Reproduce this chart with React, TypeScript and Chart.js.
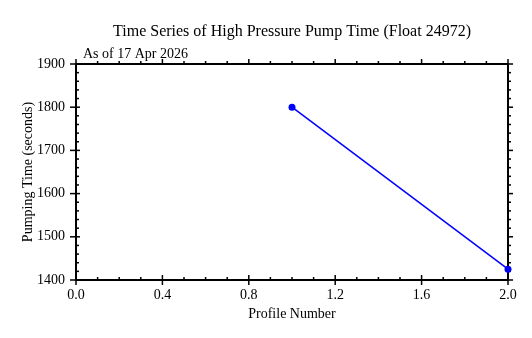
import React, { useEffect, useRef } from "react";
import { Chart, registerables } from "chart.js";

Chart.register(...registerables);

const TITLE = "Time Series of High Pressure Pump Time (Float 24972)";
const SUBTITLE = "As of 17 Apr 2026";
const X_LABEL = "Profile Number";
const Y_LABEL = "Pumping Time (seconds)";

const profileNumbers = [1, 2];
const pumpTimes = [1800, 1425];

const X_MIN = 0;
const X_MAX = 2;
const X_STEP = 0.4;
const X_MINOR = 0.1;
const Y_MIN = 1400;
const Y_MAX = 1900;
const Y_STEP = 100;
const Y_MINOR = 20;

const FONT = "'Liberation Serif', 'Times New Roman', serif";

const framePlugin = {
  id: "frameTicks",
  beforeDatasetsDraw(chart: any) {
    const ctx = chart.ctx;
    const { left, right, top, bottom } = chart.chartArea;
    const xs = chart.scales.x;
    const ys = chart.scales.y;
    ctx.save();
    ctx.strokeStyle = "#000";
    ctx.lineWidth = 2;
    ctx.strokeRect(left, top, right - left, bottom - top);
    ctx.lineWidth = 1.5;
    const line = (x1: number, y1: number, x2: number, y2: number) => {
      ctx.beginPath();
      ctx.moveTo(x1, y1);
      ctx.lineTo(x2, y2);
      ctx.stroke();
    };
    const nx = Math.round((X_MAX - X_MIN) / X_MINOR);
    const per = Math.round(X_STEP / X_MINOR);
    for (let i = 0; i <= nx; i++) {
      const v = X_MIN + i * X_MINOR;
      const px = xs.getPixelForValue(v);
      const major = i % per === 0;
      if (major) {
        line(px, bottom + 5, px, bottom - 5);
        line(px, top, px, top - 5);
      } else {
        line(px, bottom, px, bottom - 3);
        line(px, top, px, top - 3);
      }
    }
    const ny = Math.round((Y_MAX - Y_MIN) / Y_MINOR);
    const pery = Math.round(Y_STEP / Y_MINOR);
    for (let i = 0; i <= ny; i++) {
      const v = Y_MIN + i * Y_MINOR;
      const py = ys.getPixelForValue(v);
      const major = i % pery === 0;
      if (major) {
        line(left - 6, py, left + 4, py);
        line(right, py, right + 5, py);
      } else {
        line(left, py, left + 3, py);
        line(right, py, right + 3, py);
      }
    }
    ctx.restore();
  },
  afterDraw(chart: any) {
    const ctx = chart.ctx;
    const { left, right } = chart.chartArea;
    ctx.save();
    ctx.fillStyle = "#000";
    ctx.textBaseline = "alphabetic";
    ctx.font = `16px ${FONT}`;
    ctx.textAlign = "center";
    ctx.fillText(TITLE, (left + right) / 2, 36);
    ctx.font = `14px ${FONT}`;
    ctx.textAlign = "left";
    ctx.fillText(SUBTITLE, left + 7, 58);
    ctx.restore();
  },
};

export default function App() {
  const ref = useRef<HTMLCanvasElement>(null);
  useEffect(() => {
    if (!ref.current) return;
    const chart = new Chart(ref.current, {
      type: "line",
      data: {
        datasets: [
          {
            data: profileNumbers.map((x, i) => ({ x, y: pumpTimes[i] })),
            borderColor: "#0000ff",
            backgroundColor: "#0000ff",
            borderWidth: 1.5,
            pointRadius: 3.5,
            pointBorderWidth: 0,
            pointBackgroundColor: "#0000ff",
            showLine: true,
            clip: false as any,
          },
        ],
      },
      options: {
        animation: false,
        responsive: false,
        layout: { padding: { top: 64, right: 24, left: 0, bottom: 0 } },
        plugins: {
          legend: { display: false },
          tooltip: { enabled: false },
        },
        scales: {
          x: {
            type: "linear",
            min: X_MIN,
            max: X_MAX,
            afterFit: (s: any) => {
              s.height = 58;
            },
            grid: { display: false, drawTicks: false },
            border: { display: false },
            ticks: {
              stepSize: X_STEP,
              padding: 7,
              color: "#000",
              font: { family: FONT, size: 14 },
              callback: (v: any) => Number(v).toFixed(1),
              maxRotation: 0,
            },
            title: {
              display: true,
              text: X_LABEL,
              color: "#000",
              font: { family: FONT, size: 14 },
              padding: { top: 0, bottom: 15 },
            },
          },
          y: {
            type: "linear",
            min: Y_MIN,
            max: Y_MAX,
            afterFit: (s: any) => {
              s.width = 76;
            },
            grid: { display: false, drawTicks: false },
            border: { display: false },
            ticks: {
              stepSize: Y_STEP,
              padding: 11,
              color: "#000",
              font: { family: FONT, size: 14 },
              callback: (v: any) => String(v),
            },
            title: {
              display: true,
              text: Y_LABEL,
              color: "#000",
              font: { family: FONT, size: 14 },
              padding: { top: 20, bottom: 0 },
            },
          },
        },
      },
      plugins: [framePlugin],
    });
    return () => chart.destroy();
  }, []);
  return (
    <div style={{ position: "absolute", left: 0, top: 0, width: 532, height: 338, background: "#fff" }}>
      <canvas ref={ref} width={532} height={338} style={{ display: "block" }} />
    </div>
  );
}
